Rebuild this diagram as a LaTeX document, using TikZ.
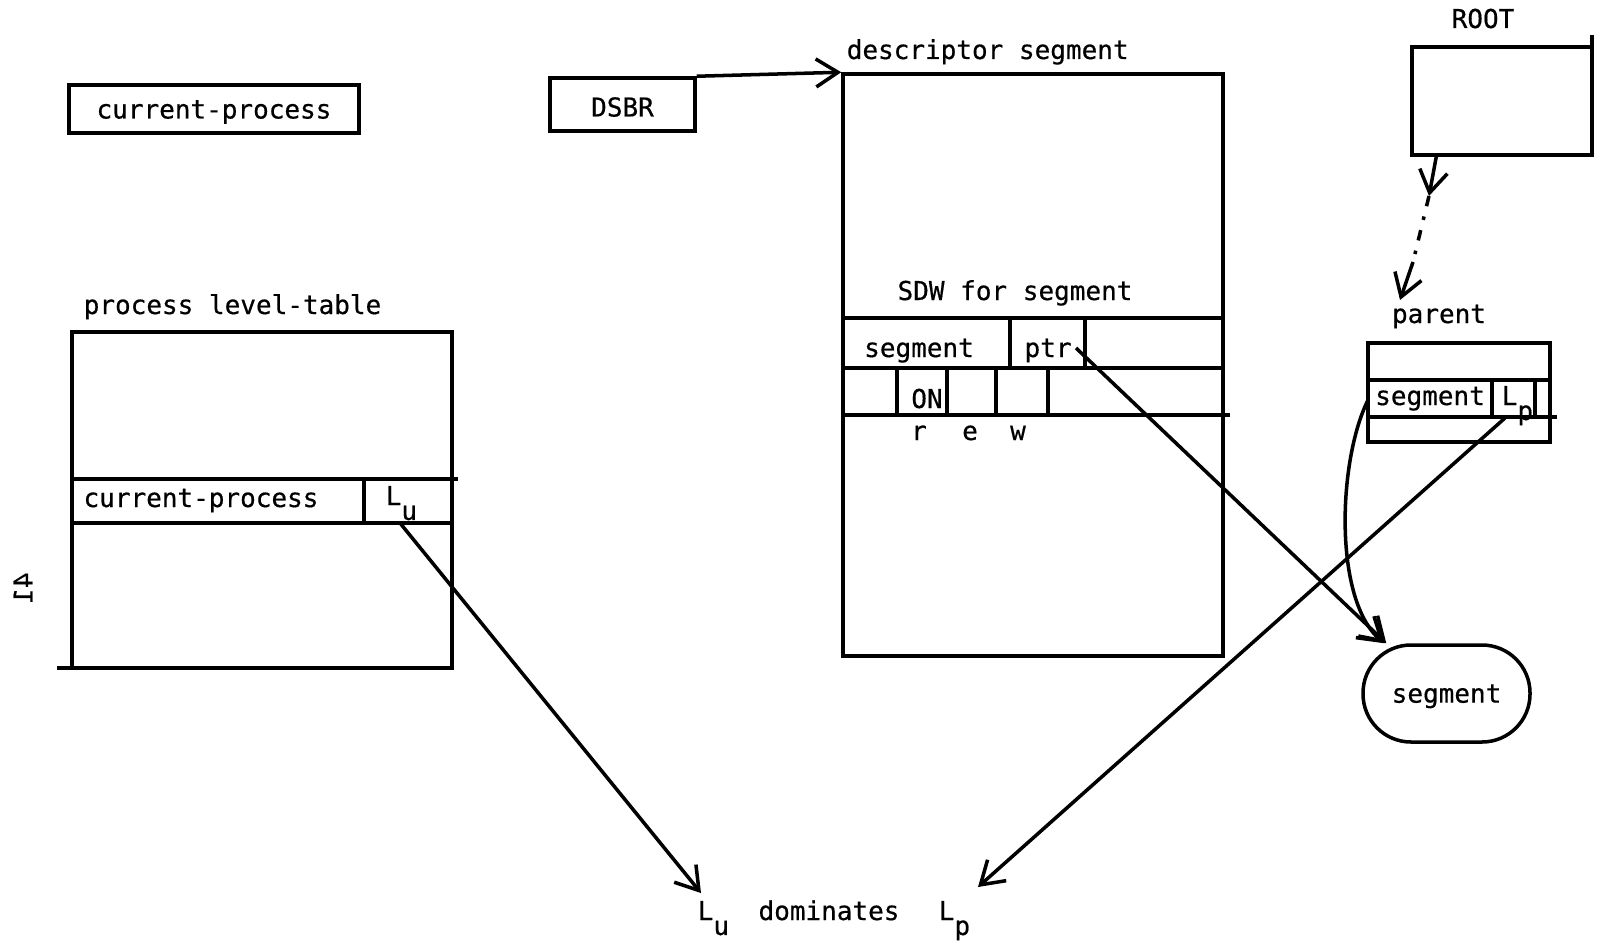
\documentclass[tikz,border=0pt]{standalone}
\usepackage{fontspec}
\newfontfamily\typefont[FakeBold=0.5]{DejaVu Sans Mono}
\usetikzlibrary{arrows.meta}
\newcommand{\lowsub}[1]{\raisebox{-1.05ex}{#1}}

\begin{document}
\begin{tikzpicture}[line width=1pt,
  every node/.style={font=\typefont\fontsize{7.4}{9}\selectfont},
  box/.style={draw, inner sep=0pt},
  txt/.style={inner sep=0pt, anchor=base},
  >={Straight Barb[length=2.2mm,width=2.8mm]}]
\useasboundingbox (0,0) rectangle (16,-9.47);
% registers
\node[box, minimum width=2.90cm, minimum height=0.48cm, text height=2.5mm, text depth=0.6mm] (curbox) at (2.14,-1.09) {current-process};
\node[box, minimum width=1.45cm, minimum height=0.53cm, text height=2.4mm, text depth=0pt] (dsbr) at (6.225,-1.045) {DSBR};
% descriptor segment
\node[box, minimum width=3.80cm, minimum height=5.82cm] (desc) at (10.33,-3.65) {};
\node[txt, anchor=base west] (desclbl) at (8.45,-0.59) {descriptor segment};
\node[txt] (sdwlbl) at (10.15,-3.00) {SDW for segment};
\draw (8.43,-3.18) -- (12.23,-3.18)
      (8.43,-3.68) -- (12.23,-3.68)
      (8.43,-4.15) -- (12.30,-4.15);
\foreach \x in {10.10,10.85}
    \draw (\x,-3.18) -- (\x,-3.68);
\foreach \x in {8.97,9.47,9.96,10.48}
    \draw (\x,-3.68) -- (\x,-4.15);
\node[txt] (sdwseg) at (9.19,-3.57) {segment};
\node[txt] (ptr) at (10.48,-3.57) {ptr};
\node[txt] (on) at (9.27,-4.08) {ON};
\node[txt] (rbit) at (9.19,-4.40) {r};
\node[txt] (ebit) at (9.70,-4.40) {e};
\node[txt] (wbit) at (10.18,-4.40) {w};
% process level-table
\node[box, minimum width=3.80cm, minimum height=3.36cm] (plt) at (2.62,-5.00) {};
\node[txt, anchor=base west] (pltlbl) at (0.82,-3.14) {process level-table};
\draw (0.72,-4.79) -- (4.58,-4.79)
      (0.72,-5.23) -- (4.52,-5.23)
      (3.64,-4.79) -- (3.64,-5.23)
      (0.57,-6.68) -- (0.72,-6.68);
\node[txt] (pltproc) at (2.01,-5.07) {current-process};
\node[txt, anchor=base west] (lucell) at (3.84,-5.05) {L\lowsub{u}};
\node[cm={0,-1,-1,0,(0,0)}] (pagenum) at (0.23,-5.88) {41};
% ROOT and parent
\node[box, minimum width=1.80cm, minimum height=1.08cm] (root) at (15.02,-1.01) {};
\draw (15.92,-0.47) -- (15.92,-0.35);
\node[txt] (rootlbl) at (14.83,-0.28) {ROOT};
\node[box, minimum width=1.82cm, minimum height=0.99cm] (parent) at (14.59,-3.925) {};
\node[txt] (parentlbl) at (14.39,-3.23) {parent};
\draw (13.68,-3.80) -- (15.52,-3.80)
      (13.68,-4.17) -- (15.57,-4.17)
      (14.92,-3.80) -- (14.92,-4.17)
      (15.35,-3.80) -- (15.35,-4.17);
\node[txt] (parentseg) at (14.30,-4.05) {segment};
\node[txt, anchor=base west] (lpcell) at (15.00,-4.05) {L\lowsub{p}};
% the segment
\node[draw, rounded corners=0.48cm, minimum width=1.67cm, minimum height=0.97cm, text depth=0pt] (seg) at (14.465,-6.935) {segment};
% bottom line
\node[txt, anchor=base west] (lu) at (6.96,-9.20) {L\lowsub{u}};
\node[txt] (dom) at (8.29,-9.20) {dominates};
\node[txt, anchor=base west] (lp) at (9.37,-9.20) {L\lowsub{p}};
% arrows
\coordinate (ptrtail) at (10.76,-3.48);
\coordinate (lutail) at (4.00,-5.23);
\coordinate (luhead) at (7.01,-8.93);
\coordinate (lptail) at (15.05,-4.18);
\coordinate (lphead) at (9.78,-8.87);
\coordinate (segtail) at (13.68,-4.00);
\coordinate (dot1) at (14.29,-1.96);
\coordinate (dot2) at (14.13,-2.62);
\coordinate (dot3) at (14.00,-3.00);
\draw[->] (dsbr.north east) -- (desc.north west);
\draw[->] (ptrtail) -- ([xshift=2.5mm]seg.north west);
\draw[->] (segtail) .. controls (13.38,-4.6) and (13.33,-6.0) .. ([xshift=2.3mm]seg.north west);
\draw[->] (lutail) -- (luhead);
\draw[->] (lptail) -- (lphead);
\draw[->] ([xshift=2.6mm]root.south west) -- (dot1);
\draw[dash pattern=on 3pt off 3pt on 1pt off 3pt] (dot1) -- (dot2);
\draw[->] (dot2) -- (dot3);
\end{tikzpicture}
\end{document}
